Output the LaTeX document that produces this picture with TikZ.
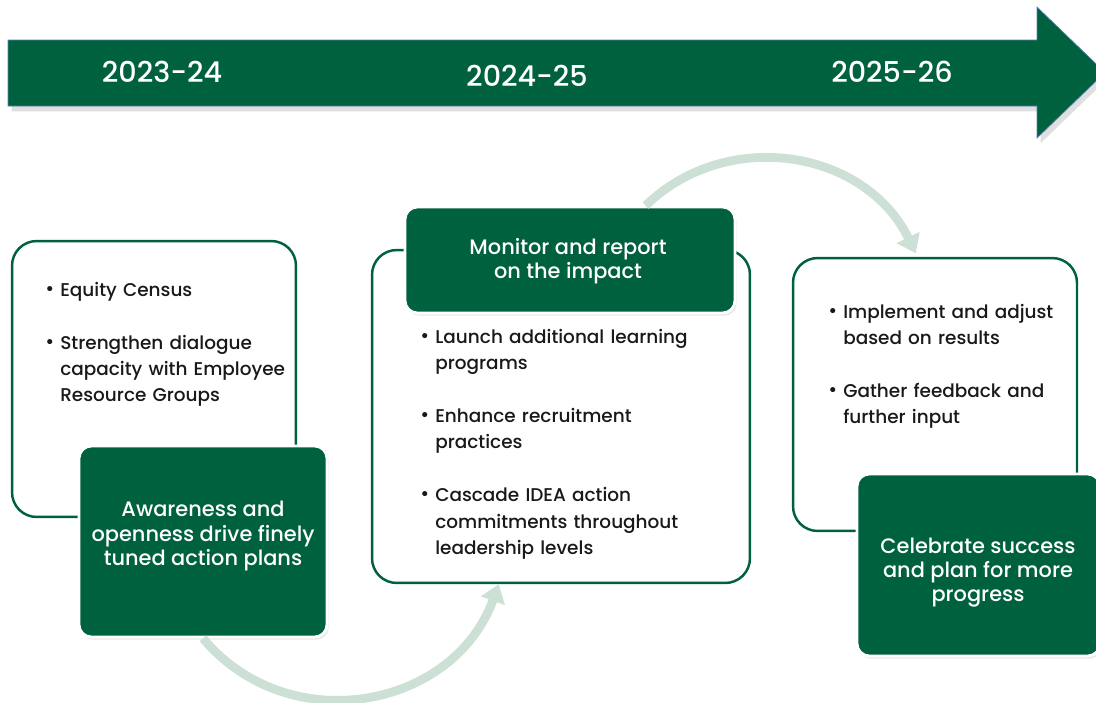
\documentclass[tikz,border=0pt]{standalone}
\usepackage{fontspec}
\setmainfont{Poppins}
\newfontfamily\itemfont{Poppins Medium}
\usetikzlibrary{arrows.meta,shadows}

\definecolor{ideagreen}{HTML}{00613F}
\definecolor{flowgreen}{HTML}{CDE0D6}
\definecolor{rimblue}{HTML}{5B7FB5}

% bullet, indent of the following lines, and the gap between two points
\newcommand\bitem{\noindent\makebox[8.5pt][l]{\raisebox{0.12ex}{\fontsize{11}{11}\selectfont\textbullet}}}
\newcommand\cont{\hspace*{8.5pt}}
\newcommand\bgap{\par\vspace{15pt}}

\begin{document}
\begin{tikzpicture}[x=0.02cm, y=-0.02cm,
    outline/.style={draw=ideagreen, line width=1.4pt, fill=white, rounded corners=14pt},
    phase/.style={fill=ideagreen, draw=white, line width=1.6pt, rounded corners=7pt,
      drop shadow={shadow xshift=1pt, shadow yshift=-1.5pt, opacity=0.18}},
    phasetext/.style={text=white, align=center, inner sep=0pt,
      font=\itemfont\fontsize{11.9}{13.7}\selectfont},
    points/.style={anchor=north west, inner sep=0pt, text width=5.4cm,
      font=\itemfont\fontsize{10.5}{15}\selectfont, text=black!90},
    year/.style={text=white, font=\itemfont\fontsize{16.3}{16}\selectfont},
    flow/.style={flowgreen, line width=5pt, -{Triangle[width=14pt,length=10pt]}}]
  \useasboundingbox (0,0) rectangle (1096,703);

  % timeline arrow
  \draw[rimblue, line width=0.4pt, fill=ideagreen,
    drop shadow={shadow xshift=2pt, shadow yshift=-3pt, opacity=0.25}]
    (8,40) -- (1037,40) -- (1037,7) -- (1105,72.5) -- (1037,138) -- (1037,106) -- (8,106) -- cycle;
  \node[year] (y1) at (162,72) {2023-24};
  \node[year] (y2) at (527,76) {2024-25};
  \node[year] (y3) at (892,72) {2025-26};

  % first year
  \node[outline, minimum width=5.68cm, minimum height=5.52cm] (box1) at (154,379) {};
  \node[points] (pts1) at (45,282) {\bitem Equity Census\bgap
    \bitem Strengthen dialogue\\\cont capacity with Employee\\\cont Resource Groups};
  \node[phase, minimum width=4.96cm, minimum height=3.82cm] (aware) at (203,541.5) {};
  \node[phasetext] (aware text) at (203,536)
    {Awareness and\\openness drive finely\\tuned action plans};

  % second year
  \node[outline, minimum width=7.56cm, minimum height=6.66cm] (box2) at (561,416.5) {};
  \node[phase, minimum width=6.6cm, minimum height=2.12cm] (monitor) at (570,260) {};
  \node[phasetext] (monitor text) at (568,261) {Monitor and report\\on the impact};
  \node[points] (pts2) at (420,329) {\bitem Launch additional learning\\\cont programs\bgap
    \bitem Enhance recruitment\\\cont practices\bgap
    \bitem Cascade IDEA action\\\cont commitments throughout\\\cont leadership levels};

  % third year
  \node[outline, minimum width=5.68cm, minimum height=5.46cm] (box3) at (935,394.5) {};
  \node[points] (pts3) at (828,304) {\bitem Implement and adjust\\\cont based on results\bgap
    \bitem Gather feedback and\\\cont further input};
  \node[phase, minimum width=4.86cm, minimum height=3.64cm] (celebrate) at (978.5,565) {};
  \node[phasetext] (celebrate text) at (978,573)
    {Celebrate success\\and plan for more\\progress};

  % flow between the years
  \draw[flow] (aware.south) to[out=-50, in=-110, looseness=1.13] ([xshift=2.56cm]box2.south west);
  \draw[flow] ([xshift=4.84cm]monitor.north west) to[out=44, in=116, looseness=1.07]
    ([xshift=2.48cm, yshift=2pt]box3.north west);
\end{tikzpicture}
\end{document}
